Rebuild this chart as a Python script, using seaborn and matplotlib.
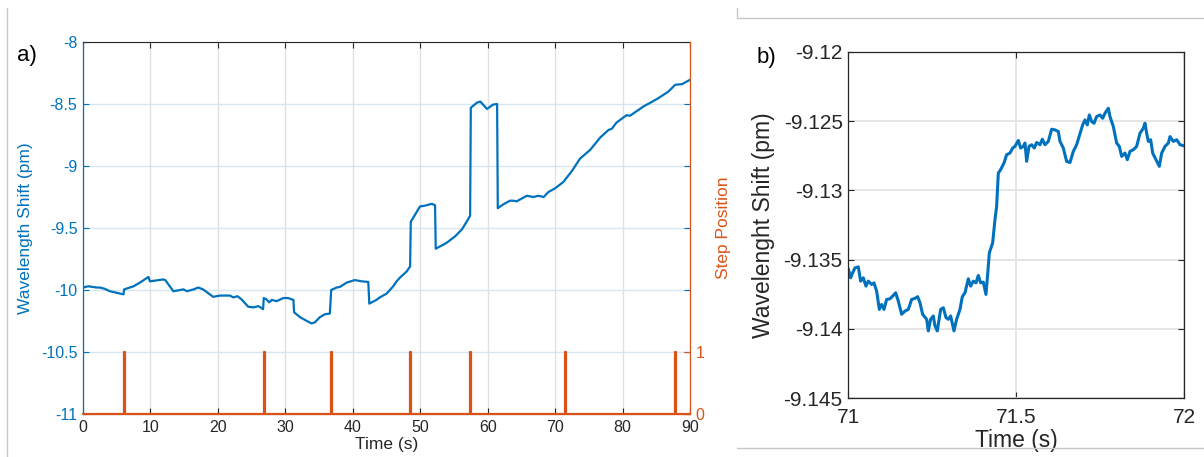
import matplotlib
matplotlib.use("Agg")
import numpy as np
import pandas as pd
import seaborn as sns
import matplotlib.pyplot as plt
from matplotlib.lines import Line2D
from matplotlib.ticker import FuncFormatter

# ---------------- data: panel a ----------------
time_a = [0, 0.8, 2.0, 2.5, 3.2, 4.0, 6.0, 6.1, 7.5, 8.45, 9.7, 9.93, 11.9, 12.2,
          13.4, 14.9, 15.4, 16.4, 17.1, 17.8, 19.3, 20.3, 21.8, 22.3, 22.9, 23.5,
          24.5, 25.3, 26.0, 26.3, 26.7, 26.8, 27.2, 27.6, 27.98, 28.7, 29.7, 30.4,
          31.2, 31.3, 32.2, 33.2, 33.9, 34.4, 35.1, 35.9, 36.6, 36.8, 37.6, 38.1,
          39.1, 40.3, 41.3, 42.3, 42.45, 43.5, 44.0, 45.0, 45.5, 46.0, 46.5, 47.0,
          47.5, 48.0, 48.5, 48.6, 49.97, 50.7, 51.7, 52.2, 52.3, 53.9, 55.2, 56.2,
          57.1, 57.4, 57.5, 58.4, 58.9, 59.9, 60.8, 61.4, 61.5, 62.3, 63.3, 63.8,
          64.3, 65.8, 66.8, 67.5, 68.3, 69.0, 70.0, 71.2, 72.5, 73.7, 75.2, 76.7,
          77.9, 78.4, 79.1, 80.6, 81.1, 83.1, 85.1, 86.8, 87.8, 88.8, 90.0]
shift_a = [-9.98, -9.97, -9.98, -9.98, -9.99, -10.01, -10.035, -9.995, -9.97, -9.94,
           -9.895, -9.93, -9.915, -9.92, -10.01, -9.995, -10.01, -9.995, -9.98,
           -9.995, -10.055, -10.045, -10.045, -10.06, -10.05, -10.075, -10.135,
           -10.14, -10.13, -10.14, -10.155, -10.065, -10.075, -10.10, -10.08, -10.09,
           -10.065, -10.065, -10.08, -10.18, -10.22, -10.25, -10.27, -10.26, -10.22,
           -10.195, -10.19, -10.0, -9.98, -9.975, -9.94, -9.92, -9.93, -9.935,
           -10.11, -10.08, -10.06, -10.03, -10.0, -9.97, -9.93, -9.90, -9.875,
           -9.85, -9.81, -9.45, -9.326, -9.32, -9.305, -9.316, -9.667, -9.62,
           -9.566, -9.51, -9.43, -9.40, -8.53, -8.49, -8.48, -8.54, -8.505, -8.50,
           -9.34, -9.31, -9.28, -9.28, -9.285, -9.24, -9.25, -9.24, -9.25, -9.21,
           -9.18, -9.13, -9.04, -8.94, -8.87, -8.77, -8.71, -8.70, -8.65, -8.59,
           -8.595, -8.52, -8.46, -8.40, -8.345, -8.34, -8.305]
step_times = [6.1, 26.85, 36.8, 48.5, 57.4, 71.5, 87.75]
step_width = 0.12
x_ticks_a = [0, 10, 20, 30, 40, 50, 60, 70, 80, 90]
y_ticks_a = [-11, -10.5, -10, -9.5, -9, -8.5, -8]
y_ticks_step = [0, 1]

# ---------------- data: panel b ----------------
time_b_z = [355, 362, 368, 375, 385, 392, 400, 408, 415, 425, 432, 440, 448, 455, 462,
            470, 480, 490, 497, 505, 515, 525, 535, 545, 555, 563, 570, 578, 590, 595,
            602, 610, 615, 622, 632, 640, 648, 655, 662, 672, 680, 690, 697, 705, 715,
            722, 730, 738, 745, 752, 760, 768, 773, 778, 788, 795, 800, 805, 812, 822,
            830, 840, 848, 855, 865, 872, 880, 885, 890, 897, 905, 913, 920, 930, 937,
            945, 955, 965, 975, 985, 990, 1000, 1010, 1020, 1030, 1040, 1048, 1058,
            1065, 1072, 1078, 1085, 1092, 1100, 1110, 1118, 1125, 1135, 1140, 1150,
            1160, 1168, 1175, 1185, 1192, 1200, 1210, 1220, 1230, 1240, 1245, 1250,
            1255, 1262, 1268, 1278, 1288, 1295, 1305, 1315, 1320, 1330, 1340, 1350, 1362]
shift_b_z = [808, 835, 820, 805, 802, 845, 835, 860, 845, 855, 850, 875, 930, 915, 930,
             900, 898, 888, 880, 905, 945, 935, 930, 900, 897, 892, 910, 945, 960, 995,
             960, 950, 980, 995, 930, 925, 955, 960, 950, 995, 960, 930, 892, 880, 838,
             860, 845, 850, 828, 850, 848, 885, 825, 760, 730, 660, 620, 520, 510, 490,
             465, 460, 445, 440, 422, 445, 440, 430, 485, 440, 435, 445, 428, 435, 418,
             435, 425, 388, 390, 395, 425, 445, 485, 488, 455, 435, 408, 375, 360, 375,
             345, 365, 370, 350, 345, 355, 340, 325, 350, 380, 430, 440, 470, 460, 480,
             455, 450, 440, 400, 385, 370, 400, 425, 420, 460, 480, 500, 460, 440, 430,
             410, 425, 420, 435, 438]
# values (zoomed pixel readings converted to axis units)
time_b = [round(71 + (z - 355) / 1007.0, 4) for z in time_b_z]
shift_b = [round(-9.12 - (z - 155) * 0.005 / 208.5, 5) for z in shift_b_z]
x_ticks_b = [71, 71.5, 72]
y_ticks_b = [-9.145, -9.14, -9.135, -9.13, -9.125, -9.12]

# ---------------- style ----------------
sns.set_theme(style="white")
plt.rcParams["font.family"] = ["Liberation Sans", "DejaVu Sans"]
BLUE = "#0072BD"
ORANGE = "#D95319"
DARK = "#262626"
fmt = FuncFormatter(lambda v, p: f"{round(v, 4):g}")

fig = plt.figure(figsize=(12.04, 4.57), dpi=100)

# decorative frame lines of the original figure
fig.add_artist(Line2D([7 / 1204, 7 / 1204], [0, 1 - 8 / 457], color="#c8c8c8", lw=1))
fig.add_artist(Line2D([737 / 1204, 1], [1 - 18 / 457, 1 - 18 / 457], color="#c8c8c8", lw=1))
fig.add_artist(Line2D([737 / 1204, 737 / 1204], [1 - 18 / 457, 1 - 8 / 457], color="#c8c8c8", lw=1))
fig.add_artist(Line2D([737 / 1204, 1], [1 - 448 / 457, 1 - 448 / 457], color="#c8c8c8", lw=1))

# ---------------- panel a ----------------
ax = fig.add_axes([83 / 1204, 1 - 414 / 457, (690 - 83) / 1204, (414 - 42) / 457])
df_a = pd.DataFrame({"t": time_a, "v": shift_a})
sns.lineplot(data=df_a, x="t", y="v", ax=ax, estimator=None, sort=False,
             color=BLUE, lw=1.6)
ax.set_xlim(0, 90)
ax.set_ylim(-11, -8)
ax.set_xticks(x_ticks_a)
ax.set_yticks(y_ticks_a)
ax.xaxis.set_major_formatter(fmt)
ax.yaxis.set_major_formatter(fmt)
ax.set_axisbelow(True)
ax.xaxis.grid(True, color="#e1e1e1", lw=1)
ax.yaxis.grid(True, color="#d6e7f3", lw=1)
ax.set_xlabel("Time (s)", fontsize=12.5, color=DARK, labelpad=2)
ax.set_ylabel("Wavelength Shift (pm)", fontsize=12.5, color=BLUE, labelpad=6)

ax2 = ax.twinx()
sx, sy = [0.0], [0.0]
for t in step_times:
    sx += [t, t, t + step_width, t + step_width]
    sy += [0, 1, 1, 0]
sx.append(90.0)
sy.append(0.0)
df_s = pd.DataFrame({"t": sx, "s": sy})
sns.lineplot(data=df_s, x="t", y="s", ax=ax2, estimator=None, sort=False,
             color=ORANGE, lw=1.6)
for l in ax2.lines:
    l.set_clip_on(False)
ax2.set_xlim(0, 90)
ax2.set_ylim(0, 6)
ax2.set_yticks(y_ticks_step)
ax2.yaxis.set_major_formatter(fmt)
ax2.set_ylabel("Step Position", fontsize=12.5, color=ORANGE, labelpad=8)
ax2.set_xlabel("")

ax.tick_params(axis="x", which="both", direction="in", bottom=True, top=True,
               length=4, width=0.8, colors=DARK, labelsize=11.5, pad=4)
ax.tick_params(axis="y", direction="in", left=True, right=True, length=4,
               width=0.8, colors=BLUE, labelsize=11.5, pad=4)
ax2.tick_params(axis="y", direction="in", right=True, left=False, length=4,
                width=0.8, colors=ORANGE, labelsize=11.5, pad=4)
ax.tick_params(axis="y", labelright=False)
ax2.tick_params(axis="x", bottom=False, top=False, labelbottom=False)

for s in ["top", "bottom"]:
    ax.spines[s].set_color(DARK)
    ax.spines[s].set_linewidth(0.8)
ax.spines["left"].set_color(BLUE)
ax.spines["left"].set_linewidth(0.9)
ax.spines["right"].set_visible(False)
for s in ["left", "top", "bottom"]:
    ax2.spines[s].set_visible(False)
ax2.spines["right"].set_color(ORANGE)
ax2.spines["right"].set_linewidth(0.9)

fig.text(17 / 1204, 1 - 56 / 457, "a)", fontsize=16, color="black", va="center", ha="left")

# ---------------- panel b ----------------
bx = fig.add_axes([848.3 / 1204, 1 - 398.3 / 457, (1184 - 848.3) / 1204,
                   (398.3 - 51.7) / 457])
df_b = pd.DataFrame({"t": time_b, "v": shift_b})
sns.lineplot(data=df_b, x="t", y="v", ax=bx, estimator=None, sort=False,
             color=BLUE, lw=2.2)
bx.set_xlim(71, 72)
bx.set_ylim(-9.145, -9.12)
bx.set_xticks(x_ticks_b)
bx.set_yticks(y_ticks_b)
bx.xaxis.set_major_formatter(fmt)
bx.yaxis.set_major_formatter(fmt)
bx.set_axisbelow(True)
bx.grid(True, color="#e3e3e3", lw=1.3)
bx.tick_params(axis="both", direction="in", bottom=True, top=True, left=True,
               right=True, length=4, width=0.8, colors=DARK, labelsize=15, pad=4)
bx.tick_params(axis="x", pad=7)
bx.set_xlabel("Time (s)", fontsize=16.5, color=DARK, labelpad=1.5)
bx.set_ylabel("Wavelenght Shift (pm)", fontsize=16.5, color=DARK, labelpad=6)
for s in bx.spines.values():
    s.set_color(DARK)
    s.set_linewidth(0.9)

fig.text(757 / 1204, 1 - 57 / 457, "b)", fontsize=16, color="black", va="center", ha="left")

fig.savefig("out.png", dpi=100)
